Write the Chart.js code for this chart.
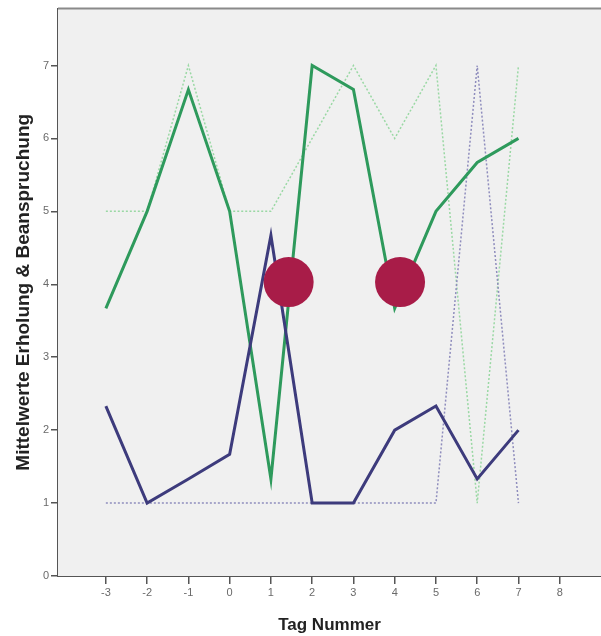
<!DOCTYPE html>
<html>
<head>
<meta charset="utf-8">
<script src="https://cdn.jsdelivr.net/npm/chart.js@4/dist/chart.umd.min.js"></script>
<style>
  html, body { margin: 0; padding: 0; background: #fff; }
  #wrap { width: 601px; height: 636px; }
</style>
</head>
<body>
<div id="wrap"><canvas id="myChart" width="601" height="636"></canvas></div>
<script>
const ctx = document.getElementById('myChart').getContext('2d');

// Tage und Mittelwerte
const tage = [-3, -2, -1, 0, 1, 2, 3, 4, 5, 6, 7];
const erholungMittel = [3.67, 5, 6.67, 5, 1.33, 7, 6.67, 3.67, 5, 5.67, 6];
const erholungDaten = [5, 5, 7, 5, 5, 6, 7, 6, 7, 1, 7];
const beanspruchungMittel = [2.33, 1, 1.33, 1.67, 4.67, 1, 1, 2, 2.33, 1.33, 2];
const beanspruchungDaten = [1, 1, 1, 1, 1, 1, 1, 1, 1, 7, 1];

// rote Markierungen
const markerX = [1.43, 4.13];
const markerY = [4.03, 4.03];

const xTicks = [-3, -2, -1, 0, 1, 2, 3, 4, 5, 6, 7, 8];
const yTicks = [0, 1, 2, 3, 4, 5, 6, 7];

function toPoints(xs, ys) {
    return xs.map((x, i) => ({ x: x, y: ys[i] }));
}

// grauer Hintergrund + obere Linie
const plotBackground = {
    id: 'plotBackground',
    beforeDatasetsDraw(chart) {
        const a = chart.chartArea;
        const c = chart.ctx;
        c.save();
        c.fillStyle = '#f0f0f0';
        c.fillRect(a.left, a.top, a.right - a.left, a.bottom - a.top);
        c.strokeStyle = '#8a8a8a';
        c.lineWidth = 2;
        c.beginPath();
        c.moveTo(a.left, a.top);
        c.lineTo(a.right, a.top);
        c.stroke();
        c.restore();
    }
};

const data = {
    datasets: [
        {
            label: 'Markierung',
            data: toPoints(markerX, markerY),
            showLine: false,
            pointRadius: 25,
            pointHoverRadius: 25,
            pointBackgroundColor: '#a81c48',
            pointBorderWidth: 0
        },
        {
            label: 'Beanspruchung Mittel',
            data: toPoints(tage, beanspruchungMittel),
            borderColor: '#3d3b7c',
            borderWidth: 3,
            pointRadius: 0,
            tension: 0
        },
        {
            label: 'Erholung Mittel',
            data: toPoints(tage, erholungMittel),
            borderColor: '#2e9a5c',
            borderWidth: 3,
            pointRadius: 0,
            tension: 0
        },
        {
            label: 'Beanspruchung',
            data: toPoints(tage, beanspruchungDaten),
            borderColor: '#8f8dbd',
            borderWidth: 1.5,
            borderDash: [2, 2],
            pointRadius: 0,
            tension: 0
        },
        {
            label: 'Erholung',
            data: toPoints(tage, erholungDaten),
            borderColor: '#9ad8a4',
            borderWidth: 1.5,
            borderDash: [2, 2],
            pointRadius: 0,
            tension: 0
        }
    ]
};

const options = {
    responsive: false,
    animation: false,
    layout: {
        autoPadding: false,
        padding: { left: 0, right: 0, top: 8, bottom: 0 }
    },
    plugins: {
        legend: { display: false },
        tooltip: { enabled: false }
    },
    scales: {
        x: {
            type: 'linear',
            min: -4.16,
            max: 9,
            afterBuildTicks: function(scale) {
                scale.ticks = xTicks.map(v => ({ value: v }));
            },
            afterFit: function(scale) {
                scale.height = 60;
            },
            border: { display: true, color: '#555', width: 2 },
            grid: { drawOnChartArea: false, drawTicks: true, tickLength: 8, color: '#555', lineWidth: 1.5 },
            ticks: {
                color: '#6a6a6a',
                font: { family: 'Liberation Sans', size: 11 },
                padding: 2,
                maxRotation: 0,
                autoSkip: false
            },
            title: {
                display: true,
                text: 'Tag Nummer',
                color: '#222',
                font: { family: 'Liberation Sans', size: 17, weight: 'bold' },
                padding: { top: 6, bottom: 0 }
            }
        },
        y: {
            type: 'linear',
            min: 0,
            max: 7.78,
            afterBuildTicks: function(scale) {
                scale.ticks = yTicks.map(v => ({ value: v }));
            },
            afterFit: function(scale) {
                scale.width = 58;
            },
            border: { display: true, color: '#555', width: 2 },
            grid: { drawOnChartArea: false, drawTicks: true, tickLength: 7, color: '#555', lineWidth: 1.5 },
            ticks: {
                color: '#6a6a6a',
                font: { family: 'Liberation Sans', size: 11 },
                padding: 2
            },
            title: {
                display: true,
                text: 'Mittelwerte Erholung & Beanspruchung',
                color: '#222',
                font: { family: 'Liberation Sans', size: 19, weight: 'bold' },
                padding: { top: 12, bottom: 0 }
            }
        }
    }
};

const myChart = new Chart(ctx, {
    type: 'line',
    data: data,
    options: options,
    plugins: [plotBackground]
});
</script>
</body>
</html>
